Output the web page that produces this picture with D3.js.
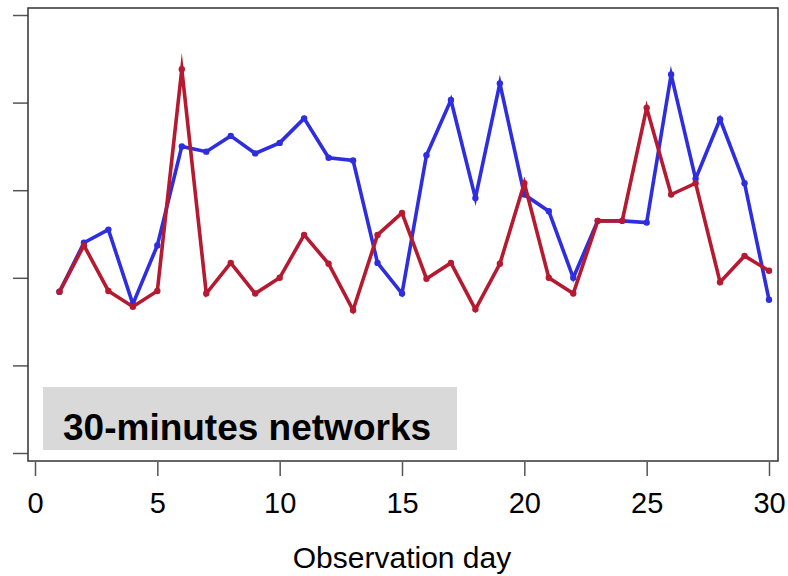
<!DOCTYPE html>
<html>
<head>
<meta charset="utf-8">
<script src="https://cdn.jsdelivr.net/npm/d3@7"></script>
<style>
  body { margin: 0; background: #fff; }
  .x-axis text { font-family: "Liberation Sans", Arial, sans-serif; font-size: 29px; fill: #000; }
  .axisLabel { font-family: "Liberation Sans", Arial, sans-serif; font-size: 30px; fill: #000; }
</style>
</head>
<body>
<div class="chart"></div>
<script>
    // observation days 1..30
    const days = [1,2,3,4,5,6,7,8,9,10,11,12,13,14,15,16,17,18,19,20,21,22,23,24,25,26,27,28,29,30];

    // (unlabelled y axis, units = tick spacing)
    const blueValues = [1.84,2.40,2.55,1.70,2.37,3.50,3.44,3.62,3.42,3.54,3.82,3.37,3.34,2.17,1.82,
                        3.40,4.03,2.91,4.22,2.95,2.76,2.00,2.65,2.65,2.63,4.32,3.13,3.81,3.08,1.75];
    const redValues  = [1.84,2.37,1.85,1.67,1.85,4.38,1.82,2.17,1.82,2.00,2.49,2.16,1.63,2.49,2.74,
                        1.99,2.17,1.64,2.16,3.08,2.00,1.82,2.65,2.65,3.94,2.95,3.08,1.95,2.25,2.08];

    const xTicks = [0,5,10,15,20,25,30];
    const yTicks = [0,1,2,3,4,5];

    const width = 788, height = 576;

    const svg = d3.select(".chart").append("svg")
        .attr("width", width)
        .attr("height", height);

    const box = {left: 28, right: 778, top: 8, bottom: 461};

    const xScale = d3.scaleLinear()
        .domain([0, 30])
        .range([35, 769]);

    const yScale = d3.scaleLinear()
        .domain([0, 5])
        .range([453, 15]);

    // y ticks, no labels
    svg.append("g")
        .attr("class", "y-axis")
        .attr("transform", "translate(" + box.left + ",0)")
        .call(d3.axisLeft(yScale).tickValues(yTicks).tickSize(15).tickFormat(""))
        .call(g => g.select(".domain").remove())
        .selectAll("line").attr("stroke", "#555").attr("stroke-width", 1.5);

    svg.append("g")
        .attr("class", "x-axis")
        .attr("transform", "translate(0," + (box.bottom + 1) + ")")
        .call(d3.axisBottom(xScale).tickValues(xTicks).tickSize(14).tickPadding(16))
        .call(g => g.select(".domain").remove())
        .call(g => g.selectAll("line").attr("stroke", "#555").attr("stroke-width", 1.5))
        .call(g => g.selectAll("text").attr("fill", "#000"));

    svg.append("text")
        .attr("class", "axisLabel")
        .attr("text-anchor", "middle")
        .attr("x", 402)
        .attr("y", 568)
        .text("Observation day");

    // label
    svg.append("rect")
        .attr("x", 43).attr("y", 387)
        .attr("width", 414).attr("height", 63)
        .attr("fill", "#d9d9d9");
    svg.append("text")
        .attr("x", 63)
        .attr("y", 440)
        .style("font-family", "'Liberation Sans', Arial, sans-serif")
        .style("font-weight", "bold")
        .style("font-size", "37px")
        .text("30-minutes networks");

    const line = d3.line()
        .x((d, i) => xScale(days[i]))
        .y(d => yScale(d));

    const series = [
        {values: blueValues, color: "#2e2ee0"},
        {values: redValues, color: "#b51a30"}
    ];

    series.forEach(s => {
        svg.append("path")
            .datum(s.values)
            .attr("d", line)
            .attr("fill", "none")
            .attr("stroke", s.color)
            .attr("stroke-width", 3.6)
            .attr("stroke-linejoin", "miter")
            .attr("stroke-miterlimit", 10);
        svg.selectAll(null)
            .data(s.values)
            .enter().append("circle")
            .attr("cx", (d, i) => xScale(days[i]))
            .attr("cy", d => yScale(d))
            .attr("r", 3.2)
            .attr("fill", s.color);
    });

    // frame
    svg.append("rect")
        .attr("x", box.left).attr("y", box.top)
        .attr("width", box.right - box.left)
        .attr("height", box.bottom - box.top)
        .attr("fill", "none")
        .attr("stroke", "#333")
        .attr("stroke-width", 1.5);
</script>
</body>
</html>
